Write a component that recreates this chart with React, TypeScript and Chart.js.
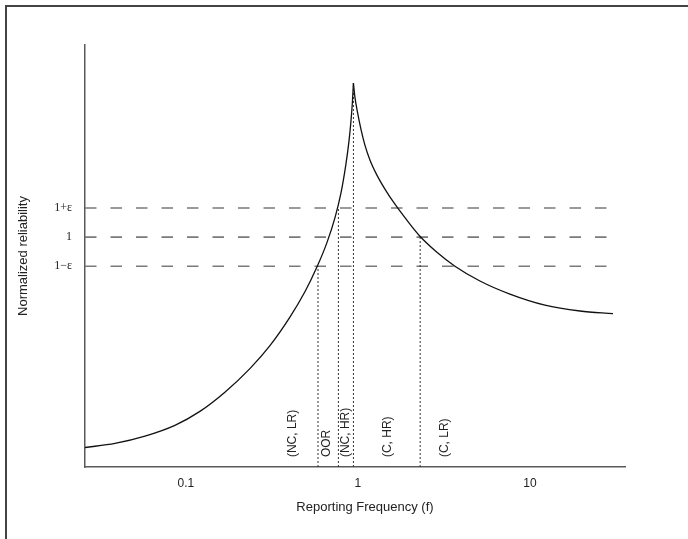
import React, { useEffect, useRef } from "react";
import { Chart, registerables } from "chart.js";

Chart.register(...registerables);

// ---- data ----
const risingX = [0.0259, 0.0387, 0.0578, 0.0863, 0.1206, 0.1685, 0.2355, 0.3079, 0.4024, 0.4918, 0.5776, 0.6604, 0.735, 0.7966, 0.8516, 0.8864, 0.9105, 0.9291, 0.9415];
const risingY = [0.277, 0.291, 0.316, 0.353, 0.401, 0.467, 0.548, 0.627, 0.725, 0.812, 0.897, 0.981, 1.066, 1.151, 1.251, 1.328, 1.397, 1.465, 1.529];
const fallingX = [0.9415, 0.9606, 0.9933, 1.041, 1.0982, 1.1743, 1.2895, 1.4355, 1.6413, 1.8761, 2.2937, 2.8792, 3.6644, 5.1203, 7.6504, 12.228, 19.535, 30.4];
const fallingY = [1.529, 1.481, 1.43, 1.371, 1.316, 1.265, 1.213, 1.165, 1.113, 1.067, 1.003, 0.948, 0.9, 0.849, 0.804, 0.766, 0.746, 0.737];

const refLevels = [1.1, 1.0, 0.9];
const refStartX = 0.0259;
const refEndX = 30;

const dropX = [0.586, 0.77, 0.9415, 2.3];
const dropTopY = [0.9, 1.1, 1.529, 1.0];

const regionLabels = ["(NC, LR)", "OOR", "(NC, HR)", "(C, HR)", "(C, LR)"];
const regionLabelX = [0.419, 0.66, 0.852, 1.494, 3.204];
const regionLabelY = 0.244;

const xTicks = [0.1, 1, 10];
const xTickLabels = ["0.1", "1", "10"];
const yTicks = [0.9, 1.0, 1.1];
const yTickLabels = ["1\u2212\u03b5", "1", "1+\u03b5"];

const xTitle = "Reporting Frequency (f)";
const yTitle = "Normalized reliability";

const xMin = 0.0259;
const xMax = 35.7;
const yMin = 0.21;
const yMax = 1.66;

const SANS = "'Liberation Sans', Arial, sans-serif";
const SERIF = "'Liberation Serif', 'Times New Roman', serif";

export default function App() {
  const ref = useRef<HTMLCanvasElement | null>(null);

  useEffect(() => {
    const canvas = ref.current;
    if (!canvas) return;

    const datasets: any[] = [];
    datasets.push({
      data: risingX.map((x, i) => ({ x, y: risingY[i] })),
      borderColor: "#111",
      borderWidth: 1.3,
      pointRadius: 0,
      cubicInterpolationMode: "monotone",
      order: 0,
    });
    datasets.push({
      data: fallingX.map((x, i) => ({ x, y: fallingY[i] })),
      borderColor: "#111",
      borderWidth: 1.3,
      pointRadius: 0,
      cubicInterpolationMode: "monotone",
      order: 0,
    });
    refLevels.forEach((lv) => {
      datasets.push({
        data: [
          { x: refStartX, y: lv },
          { x: refEndX, y: lv },
        ],
        borderColor: "#7a7a7a",
        borderWidth: 1.6,
        borderDash: [11.5, 14],
        pointRadius: 0,
        order: 2,
      });
    });
    dropX.forEach((x, i) => {
      datasets.push({
        data: [
          { x, y: yMin },
          { x, y: dropTopY[i] },
        ],
        borderColor: "#333",
        borderWidth: 1,
        borderDash: [2, 2],
        pointRadius: 0,
        order: 1,
      });
    });

    const framePlugin = {
      id: "frame",
      beforeDraw(chart: any) {
        const ctx = chart.ctx;
        ctx.save();
        ctx.fillStyle = "#fff";
        ctx.fillRect(0, 0, chart.width, chart.height);
        ctx.strokeStyle = "#444";
        ctx.lineWidth = 2;
        ctx.beginPath();
        ctx.moveTo(6, chart.height);
        ctx.lineTo(6, 6);
        ctx.lineTo(chart.width, 6);
        ctx.stroke();
        ctx.restore();
      },
    };

    const labelPlugin = {
      id: "regionLabels",
      afterDatasetsDraw(chart: any) {
        const ctx = chart.ctx;
        const xs = chart.scales.x;
        const ys = chart.scales.y;
        ctx.save();
        ctx.fillStyle = "#222";
        ctx.font = `12px ${SANS}`;
        ctx.textAlign = "left";
        ctx.textBaseline = "middle";
        regionLabels.forEach((t, i) => {
          const px = xs.getPixelForValue(regionLabelX[i]);
          const py = ys.getPixelForValue(regionLabelY);
          ctx.save();
          ctx.translate(px, py);
          ctx.rotate(-Math.PI / 2);
          ctx.fillText(t, 0, 0);
          ctx.restore();
        });
        // x-axis title (slightly right of the axis centre, as in the source)
        ctx.font = `13px ${SANS}`;
        ctx.textAlign = "center";
        ctx.textBaseline = "middle";
        const cx = (chart.chartArea.left + chart.chartArea.right) / 2 + 10;
        ctx.fillText(xTitle, cx, chart.chartArea.bottom + 40);
        ctx.restore();
      },
    };

    const chart = new Chart(canvas, {
      type: "line",
      data: { datasets },
      options: {
        responsive: false,
        animation: false,
        devicePixelRatio: 1,
        layout: { padding: { left: 8, top: 45, right: 63, bottom: 0 } },
        plugins: {
          legend: { display: false },
          tooltip: { enabled: false },
        },
        scales: {
          x: {
            type: "logarithmic",
            min: xMin,
            max: xMax,
            afterBuildTicks: (s: any) => {
              s.ticks = xTicks.map((v) => ({ value: v }));
            },
            afterFit: (s: any) => {
              s.height = 72;
            },
            grid: { display: false, drawTicks: false },
            border: { display: true, color: "#5a5a5a", width: 1.5 },
            ticks: {
              autoSkip: false,
              maxRotation: 0,
              padding: 9,
              color: "#222",
              font: { family: SANS, size: 12 },
              callback: (v: any) => {
                const i = xTicks.indexOf(Number(v));
                return i >= 0 ? xTickLabels[i] : "";
              },
            },
            title: { display: false },
          },
          y: {
            type: "linear",
            min: yMin,
            max: yMax,
            afterBuildTicks: (s: any) => {
              s.ticks = yTicks.map((v) => ({ value: v }));
            },
            afterFit: (s: any) => {
              s.width = 77;
            },
            grid: { display: false, drawTicks: false },
            border: { display: true, color: "#5a5a5a", width: 1.5 },
            ticks: {
              autoSkip: false,
              padding: 13,
              color: "#222",
              font: { family: SERIF, size: 12 },
              callback: (v: any) => {
                const i = yTicks.findIndex((t) => Math.abs(t - Number(v)) < 1e-6);
                return i >= 0 ? yTickLabels[i] : "";
              },
            },
            title: {
              display: true,
              text: yTitle,
              color: "#222",
              font: { family: SANS, size: 13 },
              padding: { top: 8, bottom: 0 },
            },
          },
        },
      },
      plugins: [framePlugin, labelPlugin],
    } as any);

    return () => chart.destroy();
  }, []);

  return (
    <div style={{ position: "fixed", left: 0, top: 0, width: 688, height: 539, background: "#fff" }}>
      <canvas ref={ref} width={688} height={539} style={{ display: "block", width: 688, height: 539 }} />
    </div>
  );
}
